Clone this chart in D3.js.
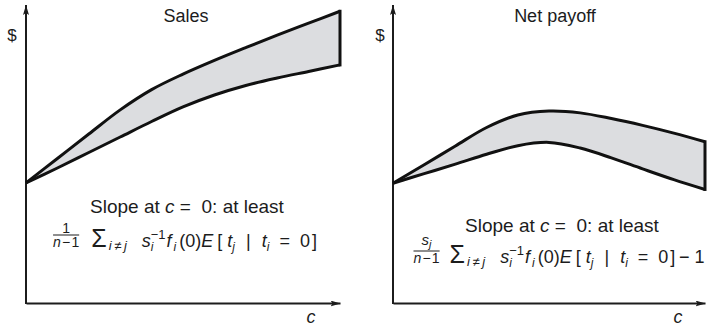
<!DOCTYPE html>
<html>
<head>
<meta charset="utf-8">
<script src="https://cdn.jsdelivr.net/npm/d3@7"></script>
<style>
  body { margin: 0; background: #fff; }
  svg { display: block; }
  text { font-family: "Liberation Sans", Arial, Helvetica, sans-serif; fill: #1c1c1c; }
</style>
</head>
<body>
<svg id="chart" width="713" height="330"></svg>
<script>
// Cost level c (arbitrary units) and the two bounds of each band ($, arbitrary units)
const cValues     = [0, 1, 2, 3, 4, 5, 6, 7, 8, 9, 10];
const salesUpper  = [40.3, 48.5, 56.7, 64.8, 71.6, 76.8, 81.4, 85.7, 89.9, 93.9, 97.9];
const salesLower  = [40.3, 45.3, 50.5, 55.7, 60.9, 65.8, 69.8, 73.0, 75.5, 77.7, 79.9];
const payoffUpper = [40.2, 46.4, 52.7, 58.9, 63.1, 64.4, 63.8, 61.9, 59.6, 57.0, 54.1];
const payoffLower = [40.2, 43.4, 46.6, 49.9, 52.8, 53.9, 52.0, 48.7, 45.0, 41.4, 38.1];

const panelTitles = ["Sales", "Net payoff"];
const yAxisLabel = "$";
const xAxisLabel = "c";

const svg = d3.select("#chart");

// arrow heads for the axes
svg.append("defs").append("marker")
  .attr("id", "arrow")
  .attr("viewBox", "0 0 10 6")
  .attr("refX", 10).attr("refY", 3)
  .attr("markerUnits", "userSpaceOnUse")
  .attr("markerWidth", 10).attr("markerHeight", 6)
  .attr("orient", "auto")
  .append("path")
  .attr("d", "M0,0 L10,3 L0,6 L2,3 Z")
  .attr("fill", "#1c1c1c");

const panels = [
  { title: panelTitles[0], upper: salesUpper, lower: salesLower,
    xRange: [26, 340], titleX: 186, dollarX: 12, cX: 311,
    noteX: 187, noteY: 213, formulaX: 185, formulaY: 247, kind: "sales" },
  { title: panelTitles[1], upper: payoffUpper, lower: payoffLower,
    xRange: [393, 705], titleX: 555, dollarX: 380, cX: 678,
    noteX: 562, noteY: 232, formulaX: 559, formulaY: 263, kind: "payoff" }
];

const yRange = [303, 5];

// a run of text pieces [text, italic, size, rise]
function run(g, x, y, parts) {
  const t = g.append("text").attr("x", x).attr("y", y);
  let cur = 0;
  parts.forEach(([s, it, size, rise]) => {
    const r = rise || 0;
    t.append("tspan")
      .attr("dy", (cur - r))
      .style("font-style", it ? "italic" : "normal")
      .style("font-size", size + "px")
      .text(s);
    cur = r;
  });
  return t.node().getComputedTextLength();
}

// lays the tokens of a formula out left to right from x = 0 on baseline y = 0
function formula(g, tokens) {
  let cx = 0;
  tokens.forEach(tok => {
    if (tok.frac) {
      const gN = g.append("g"), gD = g.append("g");
      const wn = run(gN, 0, tok.numY, tok.frac[0]);
      const wd = run(gD, 0, 0, tok.frac[1]);
      const w = Math.max(wn, wd);
      gN.attr("transform", `translate(${cx + (w - wn) / 2},0)`);
      gD.attr("transform", `translate(${cx + (w - wd) / 2},0)`);
      g.append("line")
        .attr("x1", cx).attr("x2", cx + w)
        .attr("y1", tok.barY).attr("y2", tok.barY)
        .attr("stroke", "#1c1c1c").attr("stroke-width", 1);
      cx += w + (tok.gap || 0);
    } else if (tok.stack) {
      const w1 = run(g, cx, 0, tok.stack[0]);
      const w2 = run(g, cx, 0, tok.stack[1]);
      cx += Math.max(w1, w2) + (tok.gap || 0);
    } else {
      cx += run(g, cx, 0, tok.parts) + (tok.gap || 0);
    }
  });
}

function tailTokens() {
  return [
    { parts: [["Σ", 0, 25, 0]], gap: 2 },
    { parts: [["i\u2009≠\u2009j", 1, 13, -3]], gap: 15 },
    { parts: [["s", 1, 18, 0]], gap: 0 },
    { stack: [[["i", 1, 12, -4]], [["−1", 0, 13, 8.5]]], gap: 1 },
    { parts: [["f", 1, 18, 0]], gap: 2 },
    { parts: [["i", 1, 12, -4]], gap: 3 },
    { parts: [["(0)", 0, 18, 0], ["E", 1, 18, 0]], gap: 4 },
    { parts: [["[", 0, 18, 0]], gap: 5 },
    { parts: [["t", 1, 18, 0]], gap: 0 },
    { parts: [["j", 1, 12, -4]], gap: 11 },
    { parts: [["|", 0, 18, 0]], gap: 11 },
    { parts: [["t", 1, 18, 0]], gap: 0 },
    { parts: [["i", 1, 12, -4]], gap: 10 },
    { parts: [["=", 0, 18, 0]], gap: 10 },
    { parts: [["0", 0, 18, 0]], gap: 2 },
    { parts: [["]", 0, 18, 0]], gap: 0 }
  ];
}

panels.forEach(p => {
  const x = d3.scaleLinear().domain([0, 10]).range(p.xRange);
  const y = d3.scaleLinear().domain([0, 100]).range(yRange);
  const g = svg.append("g");

  // axes: bare lines with arrow heads
  g.append("g")
    .attr("transform", `translate(0,${y(0)})`)
    .call(d3.axisBottom(x).tickValues([]).tickSizeOuter(0))
    .call(a => a.select(".domain")
      .attr("stroke", "#1c1c1c").attr("stroke-width", 2)
      .attr("marker-end", "url(#arrow)"));
  g.append("g")
    .attr("transform", `translate(${x(0)},0)`)
    .call(d3.axisLeft(y).tickValues([]).tickSizeOuter(0))
    .call(a => a.select(".domain")
      .attr("stroke", "#1c1c1c").attr("stroke-width", 2)
      .attr("d", `M0,${y(0) + 1}V${y(100)}`)
      .attr("marker-end", "url(#arrow)"));

  // band between the two bounds
  const pts = cValues.map((c, i) => ({ c, hi: p.upper[i], lo: p.lower[i] }));
  const curve = d3.curveCatmullRom.alpha(0.5);
  g.append("path")
    .datum(pts)
    .attr("d", d3.area().x(d => x(d.c)).y0(d => y(d.lo)).y1(d => y(d.hi)).curve(curve))
    .attr("fill", "#dcdde0");

  const line = d3.line().x(d => x(d[0])).y(d => y(d[1])).curve(curve);
  const last = cValues.length - 1;
  [p.upper, p.lower].forEach(series => {
    g.append("path")
      .datum(cValues.map((c, i) => [c, series[i]]))
      .attr("d", line)
      .attr("fill", "none").attr("stroke", "#111").attr("stroke-width", 3)
      .attr("stroke-linejoin", "round");
  });
  g.append("line")
    .attr("x1", x(cValues[last])).attr("x2", x(cValues[last]))
    .attr("y1", y(p.upper[last]) - 1.5).attr("y2", y(p.lower[last]) + 1.5)
    .attr("stroke", "#111").attr("stroke-width", 3);

  // labels
  g.append("text").attr("x", p.titleX).attr("y", 21.5)
    .attr("text-anchor", "middle").style("font-size", "18px").text(p.title);
  g.append("text").attr("x", p.dollarX).attr("y", 40.5)
    .attr("text-anchor", "middle").style("font-size", "17px").text(yAxisLabel);
  g.append("text").attr("x", p.cX).attr("y", 323)
    .attr("text-anchor", "middle").style("font-size", "18px")
    .style("font-style", "italic").text(xAxisLabel);

  const note = g.append("text").attr("x", p.noteX).attr("y", p.noteY)
    .attr("text-anchor", "middle").style("font-size", "19px");
  note.append("tspan").text("Slope at ");
  note.append("tspan").style("font-style", "italic").text("c");
  note.append("tspan").text("\u00a0=\u00a0\u00a00: at least");

  const fg = g.append("g");
  const den = [["n", 1, 14, 0], ["\u200a−\u200a1", 0, 14, 0]];
  let tokens;
  if (p.kind === "sales") {
    tokens = [{ frac: [[["1", 0, 14, 0]], den], numY: -14.5, barY: -12, gap: 12 }]
      .concat(tailTokens());
  } else {
    tokens = [{ frac: [[["s", 1, 15, 0], ["j", 1, 11, -3]], den], numY: -18, barY: -12, gap: 10 }]
      .concat(tailTokens());
    tokens.push({ parts: [["\u2009− 1", 0, 18, 0]], gap: 0 });
  }
  formula(fg, tokens);
  const bb = fg.node().getBBox();
  fg.attr("transform", `translate(${p.formulaX - (bb.x + bb.width / 2)},${p.formulaY})`);
});
</script>
</body>
</html>
